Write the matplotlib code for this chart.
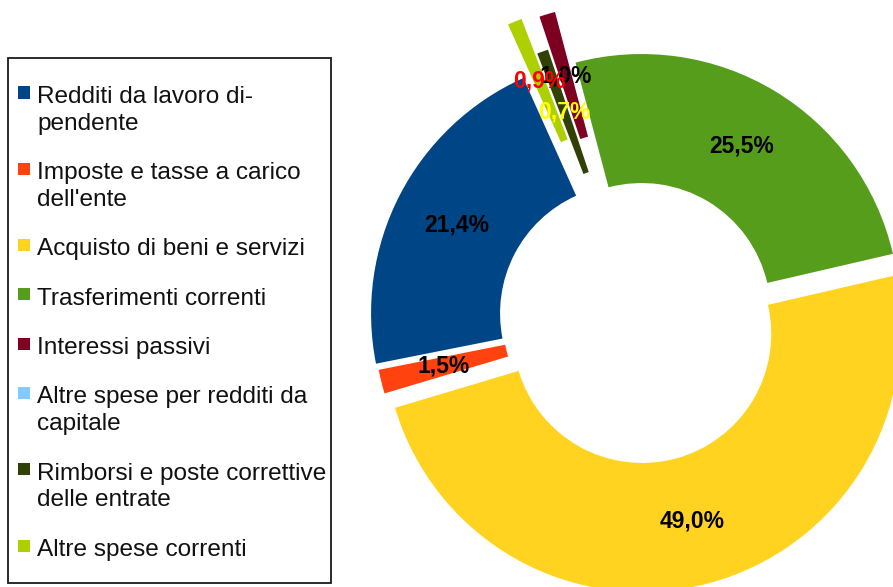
import matplotlib
matplotlib.use("Agg")
import matplotlib.pyplot as plt
from matplotlib.patches import Rectangle

# spese correnti per macroaggregato (quote %)
categories = [
    "Redditi da lavoro di-\npendente",
    "Imposte e tasse a carico\ndell'ente",
    "Acquisto di beni e servizi",
    "Trasferimenti correnti",
    "Interessi passivi",
    "Altre spese per redditi da\ncapitale",
    "Rimborsi e poste correttive\ndelle entrate",
    "Altre spese correnti",
]
shares = [21.4, 1.5, 49.0, 25.5, 1.0, 0.0, 0.7, 0.9]

colors = ["#004586", "#ff420e", "#ffd320", "#579d1c",
          "#7e0021", "#83caff", "#314004", "#aecf00"]
label_colors = ["black", "black", "black", "black",
                "black", "black", "#ffff00", "#ff0000"]
explode = [0.039, 0.025, 0.064, 0.027, 0.229, 0.0, 0.097, 0.244]

W, H = 893, 587
R_PX = 258          # outer radius in pixels
cx, cy = 638, 318   # ring centre in pixels (from top-left)

fig = plt.figure(figsize=(W / 100, H / 100), dpi=100)
ax = fig.add_axes([0, 0, 1, 1])


def pct_label(p):
    if p < 0.05:
        return ""
    return f"{p:.1f}%".replace(".", ",")


wedges, texts, autotexts = ax.pie(
    shares, colors=colors, explode=explode, startangle=114.2,
    radius=1, wedgeprops=dict(width=0.5, linewidth=0),
    autopct=pct_label, pctdistance=0.75,
    textprops=dict(fontsize=16.5, family="Liberation Sans", weight="bold"))
for t, c in zip(autotexts, label_colors):
    t.set_color(c)

ax.set_xlim(-cx / R_PX, (W - cx) / R_PX)
ax.set_ylim(-(H - cy) / R_PX, cy / R_PX)
ax.set_axis_off()


def fx(px):
    return px / W


def fy(py):
    return 1 - py / H


# legend box drawn by hand so the swatch sits on the first text line
fig.add_artist(Rectangle((fx(8), fy(583)), (331 - 8) / W, (583 - 58) / H,
                         transform=fig.transFigure, fill=False,
                         edgecolor="#1a1a1a", linewidth=1.3))

y = 94
for name, col in zip(categories, colors):
    lines = name.split("\n")
    fig.add_artist(Rectangle((fx(18), fy(y + 4.5)), 12 / W, 12 / H,
                             transform=fig.transFigure,
                             facecolor=col, edgecolor="none"))
    for j, line in enumerate(lines):
        fig.text(fx(37), fy(y + 27 * j + 8.7), line, fontsize=17.6,
                 family="Liberation Sans", va="baseline", color="#111111")
    y += 27 * len(lines) + 22.3

fig.savefig("out.png", dpi=100)
